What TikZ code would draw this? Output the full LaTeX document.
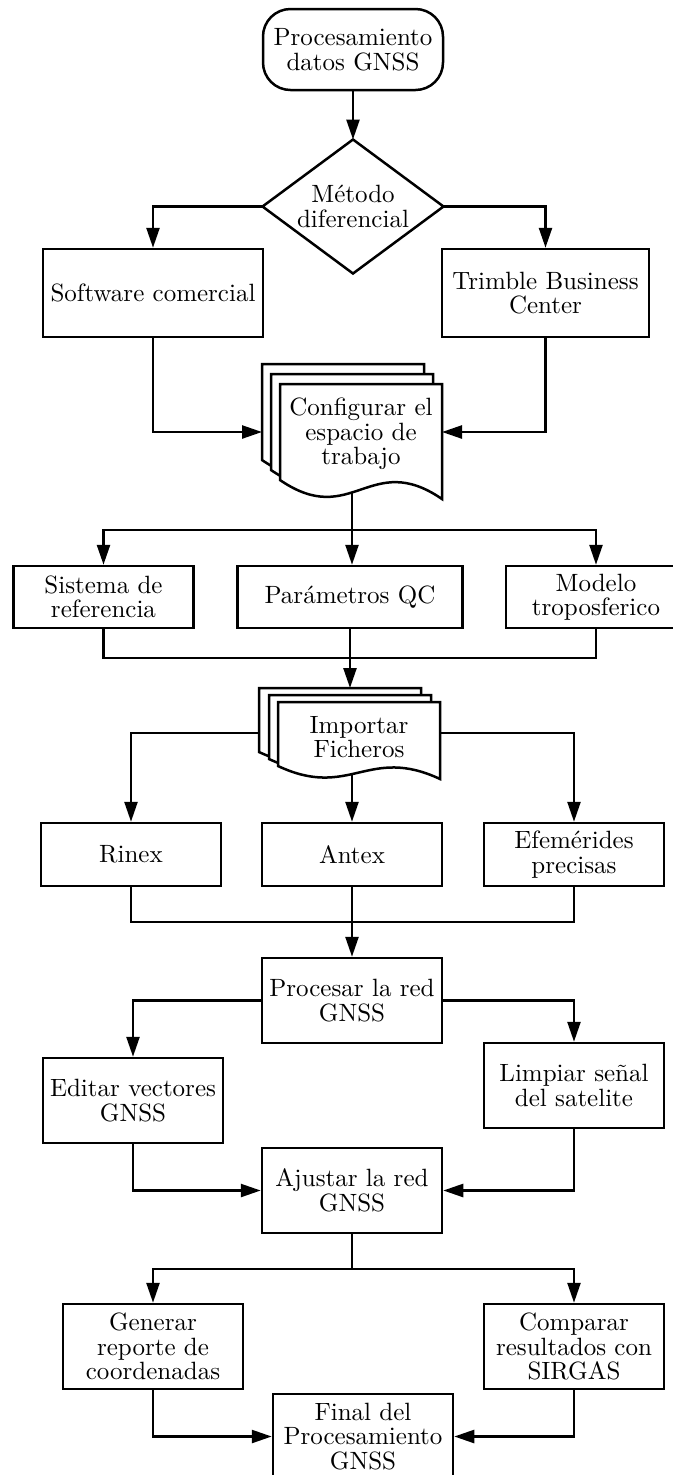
\documentclass[tikz,border=0pt]{standalone}
\usetikzlibrary{arrows.meta}
\newcommand\docshape[5]{\draw[docline] (#1,#2) -- (#3,#2) -- (#3,{#4+#5}) .. controls ({#1+0.556*(#3-#1)},{#4-1.6*#5}) and ({#1+0.444*(#3-#1)},{#4+2.6*#5}) .. (#1,#4) -- cycle;}
\begin{document}
\begin{tikzpicture}[x=0.4pt,y=-0.4pt,
  every node/.style={font=\fontsize{10}{9.8}\selectfont, align=center, inner sep=0pt},
  box/.style={draw, line width=1pt, fill=white, minimum width=72pt},
  docline/.style={draw, line width=1pt, fill=white},
  conn/.style={line width=1pt},
  arr/.style={conn, -{Triangle[length=8pt,width=5.2pt]}}]
\useasboundingbox (0,0) rectangle (673,1475);

% start and decision
\node[box, rounded corners=11pt, minimum width=72pt, minimum height=32.4pt] (start) at (353,49.5) {Procesamiento\\datos GNSS};
\node[minimum width=72pt, minimum height=53.2pt] (dia) at (353,206.5) {M\'etodo\\diferencial};
\draw[line width=1pt] (dia.north) -- (dia.east) -- (dia.south) -- (dia.west) -- cycle;

\node[box, minimum width=88pt, minimum height=35.2pt] (soft) at (153,293) {Software comercial};
\node[box, minimum width=82.8pt, minimum height=35.2pt] (tbc) at (545.5,293) {Trimble Business\\Center};

% configurar document stack
\docshape{262}{364}{424}{460}{19}
\docshape{271}{374}{433}{470}{19}
\docshape{280}{384}{442}{480}{19}
\node (cfg) at (361,434) {Configurar el\\espacio de\\trabajo};
\coordinate (cfgW) at (262,432);
\coordinate (cfgE) at (442,432);
\coordinate (cfgS) at (352,493);

\node[box, minimum width=72pt, minimum height=24.8pt] (sis) at (103.5,597) {Sistema de\\referencia};
\node[box, minimum width=90pt, minimum height=24.8pt] (par) at (350,597) {Par\'ametros QC};
\node[box, minimum width=72pt, minimum height=24.8pt] (mod) at (596,597) {Modelo\\troposferico};

% importar document stack
\docshape{259}{688}{421}{752}{13}
\docshape{269}{695}{431}{759}{13}
\docshape{278}{702}{440}{766}{13}
\node (imp) at (359,737) {Importar\\Ficheros};
\coordinate (impN) at (350,688);
\coordinate (impW) at (259,733);
\coordinate (impE) at (440,733);
\coordinate (impS) at (352,773);

\node[box, minimum height=25.2pt] (rin) at (131,854.5) {Rinex};
\node[box, minimum height=25.2pt] (ant) at (352,854.5) {Antex};
\node[box, minimum height=25.2pt] (efe) at (574,854.5) {Efem\'erides\\precisas};

\node[box, minimum height=34pt] (pro) at (352,1000.5) {Procesar la red\\GNSS};
\node[box, minimum height=34pt] (edi) at (133,1100.5) {Editar vectores\\GNSS};
\node[box, minimum height=34pt] (lim) at (574,1085.5) {Limpiar se\~nal\\del satelite};
\node[box, minimum height=34pt] (aju) at (352,1190.5) {Ajustar la red\\GNSS};
\node[box, minimum height=34pt] (gen) at (153,1346.5) {Generar\\reporte de\\coordenadas};
\node[box, minimum height=34pt] (com) at (574,1346.5) {Comparar\\resultados con\\SIRGAS};
\node[box, minimum height=34pt] (fin) at (363,1436.5) {Final del\\Procesamiento\\GNSS};

\coordinate (j1) at (352,530);
\coordinate (j2) at (350,658);
\coordinate (j3) at (352,922);
\coordinate (j4) at (352,1269);

% connectors
\draw[arr] (start.south) -- (dia.north);
\draw[arr] (dia.west) -| (soft.north);
\draw[arr] (dia.east) -| (tbc.north);
\draw[arr] (soft.south) |- (cfgW);
\draw[arr] (tbc.south) |- (cfgE);

\draw[arr] (cfgS) -- (j1) -| (sis.north);
\draw[arr] (j1) -| (mod.north);
\draw[arr] (cfgS) -- (cfgS |- par.north);

\draw[conn] (sis.south) |- (j2) -| (mod.south);
\draw[arr] (par.south) -- (impN);

\draw[arr] (impW) -| (rin.north);
\draw[arr] (impE) -| (efe.north);
\draw[arr] (impS) -- (ant.north);

\draw[conn] (rin.south) |- (j3) -| (efe.south);
\draw[arr] (ant.south) -- (pro.north);

\draw[arr] (pro.west) -| (edi.north);
\draw[arr] (pro.east) -| (lim.north);
\draw[arr] (edi.south) |- (aju.west);
\draw[arr] (lim.south) |- (aju.east);

\draw[arr] (aju.south) -- (j4) -| (gen.north);
\draw[arr] (j4) -| (com.north);
\draw[arr] (gen.south) |- (fin.west);
\draw[arr] (com.south) |- (fin.east);
\end{tikzpicture}
\end{document}
